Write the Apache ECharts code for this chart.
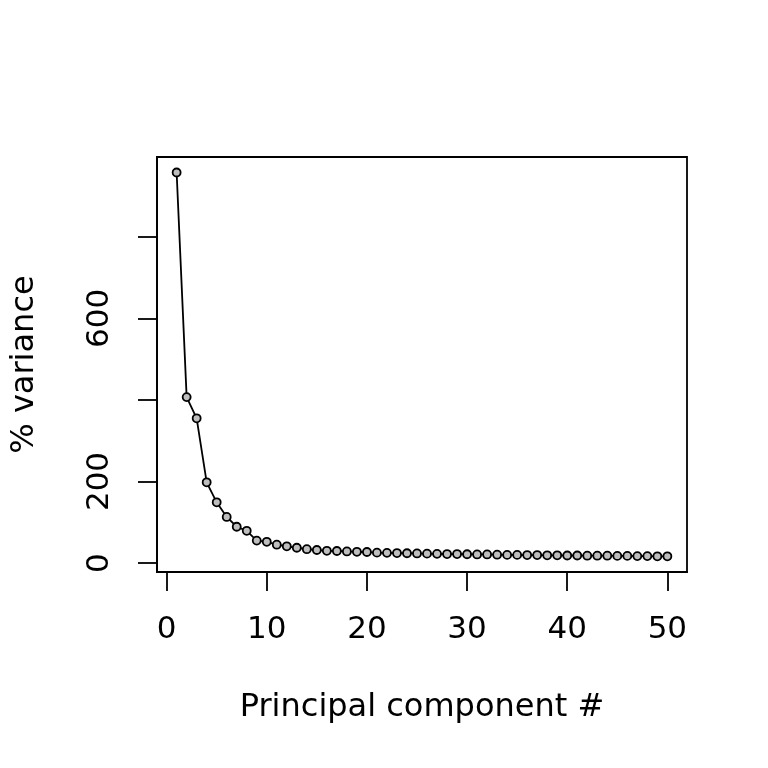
<!DOCTYPE html>
<html>
<head>
<meta charset="utf-8">
<script src="https://cdn.jsdelivr.net/npm/echarts@6/dist/echarts.min.js"></script>
<style>html,body{margin:0;padding:0;background:#fff}#c{width:768px;height:768px}</style>
</head>
<body>
<div id="c"></div>
<script>
const components = [];
for (let i = 1; i <= 50; i++) components.push(i);
const variance = [958, 407, 355, 198, 149, 113, 89, 79, 55, 52,
  45, 41, 37.5, 34, 32, 30, 29.5, 28.5, 27.5, 27,
  25.5, 25, 24.5, 24, 23.5, 23, 22.5, 22, 22, 21.5,
  21, 21, 20.5, 20, 20, 19.5, 19.5, 19, 19, 18.5,
  18.5, 18, 18, 18, 17.5, 17.5, 17, 17, 16.5, 16.5];
const xTicks = [0, 10, 20, 30, 40, 50];
const yTicks = [0, 200, 400, 600, 800];
const yLabels = [0, 200, 600];

const font = 'DejaVu Sans';
const fs = 31;
const chart = echarts.init(document.getElementById('c'), null, {renderer: 'canvas'});
chart.setOption({
  animation: false,
  backgroundColor: '#fff',
  grid: {left: 157, right: 81, top: 157, bottom: 196, show: true, borderColor: '#000', borderWidth: 1.8, backgroundColor: 'transparent'},
  xAxis: {
    type: 'value', min: -0.96, max: 51.96,
    name: 'Principal component #', nameLocation: 'middle', nameGap: 120,
    nameTextStyle: {fontFamily: font, fontSize: 32, color: '#000'},
    axisLine: {show: true, onZero: false, lineStyle: {color: '#000', width: 1.8}},
    axisTick: {show: true, length: 19, lineStyle: {color: '#000', width: 1.8}, customValues: xTicks},
    axisLabel: {fontFamily: font, fontSize: fs, color: '#000', margin: 42, customValues: xTicks},
    splitLine: {show: false}
  },
  yAxis: {
    type: 'value', min: -22, max: 996,
    name: '% variance', nameLocation: 'middle', nameGap: 116,
    nameTextStyle: {fontFamily: font, fontSize: 32, color: '#000'},
    axisLine: {show: true, onZero: false, lineStyle: {color: '#000', width: 1.8}},
    axisTick: {show: true, length: 19, lineStyle: {color: '#000', width: 1.8}, customValues: yTicks},
    axisLabel: {fontFamily: font, fontSize: fs, color: '#000', margin: 42, rotate: 90, customValues: yLabels},
    splitLine: {show: false}
  },
  series: [{
    type: 'line',
    data: components.map((c, i) => [c, variance[i]]),
    symbol: 'circle', symbolSize: 8,
    lineStyle: {color: '#000', width: 1.8},
    itemStyle: {color: '#bebebe', borderColor: '#000', borderWidth: 1.8},
    clip: false
  }]
});
</script>
</body>
</html>
